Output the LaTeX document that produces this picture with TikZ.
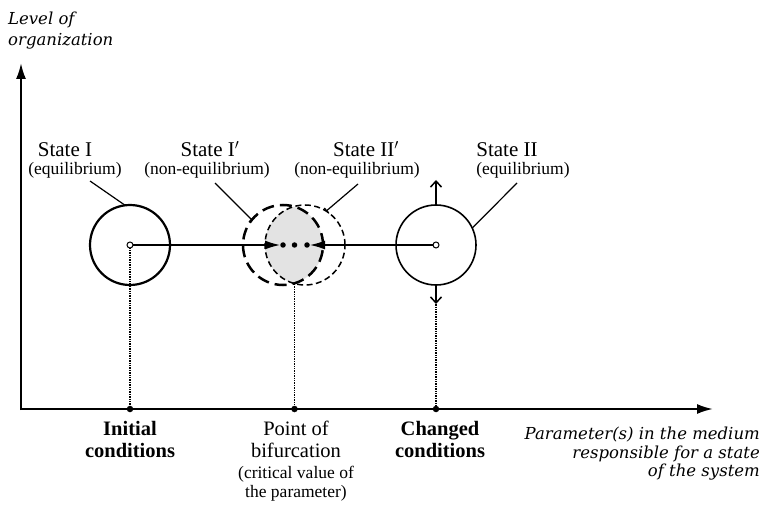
\documentclass[tikz,border=0pt]{standalone}
\usepackage{fontspec}
\setmainfont{Liberation Serif}
\newfontfamily\axisfont{DejaVu Serif}
\usetikzlibrary{arrows.meta,calc}
\begin{document}
\begin{tikzpicture}[x=1pt,y=-1pt,
  statecirc/.style={circle, draw, minimum size=80pt, inner sep=0pt, outer sep=0pt},
  ttl/.style={font=\fontsize{21}{23}\selectfont, anchor=base, inner sep=0pt},
  sublbl/.style={font=\fontsize{17.5}{19}\selectfont, anchor=base, inner sep=0pt},
  botb/.style={font=\fontsize{20.5}{22}\selectfont\bfseries, anchor=base, inner sep=0pt},
  botr/.style={font=\fontsize{20.5}{22}\selectfont, anchor=base, inner sep=0pt},
  axlbl/.style={font=\fontsize{16.5}{19}\selectfont\axisfont\itshape, inner sep=0pt},
  axisline/.style={line width=2pt, -{Latex[length=16pt,width=10pt]}},
  flow/.style={line width=1.3pt, -{Latex[length=15pt,width=9pt]}},
  dropline/.style={line width=1.4pt, densely dotted},
  leader/.style={line width=1.2pt},
  tickleader/.style={line width=1.2pt, -{Bar[width=7pt,line width=1.2pt]}},
  shift arrow/.style={line width=1.5pt, -{Straight Barb[length=6pt,width=11pt,line width=1.5pt]}},
  dotmark/.style={circle, fill, inner sep=0pt, minimum size=5.5pt},
  opencenter/.style={circle, draw, fill=white, line width=1pt, inner sep=0pt, minimum size=6pt},
]
\useasboundingbox (0,0) rectangle (766,505);

% axes
\coordinate (O) at (21,409);
\coordinate (ytop) at (21,63);
\coordinate (xend) at (713,409);
\draw[axisline] ($(O)+(0,1)$) -- (ytop);
\draw[axisline] ($(O)+(-1,0)$) -- (xend);

% lens fill (intersection)
\begin{scope}
  \clip (283,245) circle[radius=40];
  \fill[gray!22] (305,245) circle[radius=40];
\end{scope}

% circles
\node[statecirc, line width=2.2pt] (s1) at (130,245) {};
\node[statecirc, line width=2.5pt, dash pattern=on 12pt off 6pt] (s1p) at (283,245) {};
\node[statecirc, line width=1.5pt, dash pattern=on 6pt off 3.5pt] (s2p) at (305,245) {};
\node[statecirc, line width=1.6pt] (s2) at (436,245) {};

% flow arrows
\coordinate (tipL) at (280,245);
\coordinate (tipR) at (310,245);
\draw[flow] (s1.center) -- (tipL);
\draw[flow] (s2.center) -- (tipR);

% dots
\node[dotmark] (d1) at (283,245) {};
\node[dotmark] (d2) at (294.5,245) {};
\node[dotmark] (d3) at (307,245) {};

% axis points
\node[dotmark, minimum size=6.5pt] (a1) at (130,409) {};
\node[dotmark, minimum size=6.5pt] (a2) at (294.5,409) {};
\node[dotmark, minimum size=6.5pt] (a3) at (436,409) {};

% drop lines
\coordinate (lensbot) at (294.5,284);
\draw[dropline] (s1.center) -- (a1);
\draw[dropline] (lensbot) -- (a2);
\draw[dropline] (s2.south) -- (a3);

% open centres
\node[opencenter] (c1) at (s1.center) {};
\node[opencenter] (c2) at (s2.center) {};

% shift arrows at State II
\coordinate (upend) at (436,180);
\coordinate (downend) at (436,304);
\draw[shift arrow] (s2.north) -- (upend);
\draw[shift arrow] (s2.south) -- (downend);

% labels
\node[ttl] (t1) at (65,157) {State I};
\node[sublbl] (u1) at (75,175) {(equilibrium)};
\node[ttl] (t1p) at (210,157) {State I$'$};
\node[sublbl] (u1p) at (207,175) {(non-equilibrium)};
\node[ttl] (t2p) at (366,157) {State II$'$};
\node[sublbl] (u2p) at (357,175) {(non-equilibrium)};
\node[ttl] (t2) at (507,157) {State II};
\node[sublbl] (u2) at (523,175) {(equilibrium)};

% leaders
\coordinate (l1) at (90,181);
\coordinate (l1p) at (215,183);
\coordinate (l2p) at (358,184);
\coordinate (l2) at (517,183);
\draw[leader] (l1) -- (s1.97);
\draw[tickleader] (l1p) -- (s1p.141);
\draw[tickleader] (l2p) -- (s2p.58);
\draw[leader] (l2) -- (s2.25);

% bottom labels
\node[botb] (b1a) at (130,435) {Initial};
\node[botb] (b1b) at (130,457) {conditions};
\node[botr] (b2a) at (296,435) {Point of};
\node[botr] (b2b) at (296,457) {bifurcation};
\node[sublbl] (b2c) at (296,478) {(critical value of};
\node[sublbl] (b2d) at (296,497) {the parameter)};
\node[botb] (b3a) at (440,435) {Changed};
\node[botb] (b3b) at (440,457) {conditions};

% axis labels
\node[axlbl, anchor=base east] (x1) at (760,439) {Parameter(s) in the medium};
\node[axlbl, anchor=base east] (x2) at (760,458) {responsible for a state};
\node[axlbl, anchor=base east] (x3) at (760,476) {of the system};
\node[axlbl, anchor=base west] (y1) at (8,25) {Level of};
\node[axlbl, anchor=base west] (y2) at (8,46) {organization};
\end{tikzpicture}
\end{document}
